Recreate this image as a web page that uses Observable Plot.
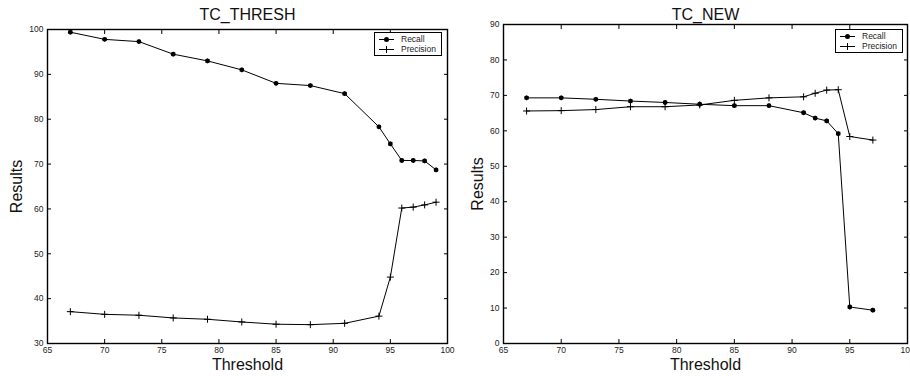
<!DOCTYPE html>
<html>
<head>
<meta charset="utf-8">
<script src="https://cdn.jsdelivr.net/npm/d3@7"></script>
<script src="https://cdn.jsdelivr.net/npm/@observablehq/plot@0.6"></script>
<style>
  body { margin: 0; background: #fff; }
  #wrap { position: relative; width: 910px; height: 376px; overflow: hidden; font-family: "Liberation Sans", Arial, Helvetica, sans-serif; }
  .panel { position: absolute; top: 0; }
  .legend { position: absolute; background: #fff; border: 1.5px solid #000; font-size: 8.5px; line-height: 10px; padding: 1px 4px 1px 4px; color: #222; }
  .row { display: flex; align-items: center; white-space: nowrap; }
  .sw { position: relative; display: inline-block; width: 15px; height: 1px; background: #000; margin-right: 7px; }
  .sw .dot { position: absolute; left: 5px; top: -2px; width: 5px; height: 5px; border-radius: 50%; background: #000; }
  .sw .vb { position: absolute; left: 7px; top: -3px; width: 1px; height: 7px; background: #000; }
</style>
</head>
<body>
<div id="wrap">
  <div id="p1" class="panel" style="left:0"></div>
  <div id="p2" class="panel" style="left:455px"></div>
  <div class="legend" style="left:374px; top:32px; width:58px;">
    <div class="row"><span class="sw"><span class="dot"></span></span>Recall</div>
    <div class="row"><span class="sw"><span class="vb"></span></span>Precision</div>
  </div>
  <div class="legend" style="left:835px; top:29px; width:58px;">
    <div class="row"><span class="sw"><span class="dot"></span></span>Recall</div>
    <div class="row"><span class="sw"><span class="vb"></span></span>Precision</div>
  </div>
</div>
<script>
// ---- data ----
const titleA = "TC_THRESH";
const titleB = "TC_NEW";
const xLabel = "Threshold";
const yLabel = "Results";
const seriesNames = ["Recall", "Precision"];

const xTicks = [65, 70, 75, 80, 85, 90, 95, 100];
const yTicksA = [30, 40, 50, 60, 70, 80, 90, 100];
const yTicksB = [0, 10, 20, 30, 40, 50, 60, 70, 80, 90];

const thresholdsA = [67, 70, 73, 76, 79, 82, 85, 88, 91, 94, 95, 96, 97, 98, 99];
const recallA     = [99.4, 97.8, 97.3, 94.5, 93.0, 91.0, 88.0, 87.5, 85.7, 78.3, 74.5, 70.8, 70.8, 70.7, 68.7];
const precisionA  = [37.1, 36.5, 36.3, 35.7, 35.4, 34.8, 34.3, 34.2, 34.5, 36.1, 44.8, 60.2, 60.4, 60.9, 61.5];

const thresholdsB = [67, 70, 73, 76, 79, 82, 85, 88, 91, 92, 93, 94, 95, 97];
const recallB     = [69.3, 69.3, 68.9, 68.4, 68.0, 67.5, 67.1, 67.1, 65.1, 63.6, 62.8, 59.2, 10.3, 9.4];
const precisionB  = [65.6, 65.7, 66.0, 66.8, 66.8, 67.3, 68.6, 69.3, 69.6, 70.6, 71.5, 71.6, 58.4, 57.4];

function rows(ts, rec, prec) {
  return [
    ...ts.map((t, i) => ({t, v: rec[i], s: seriesNames[0]})),
    ...ts.map((t, i) => ({t, v: prec[i], s: seriesNames[1]}))
  ];
}

function panel({title, data, yDomain, yTicks, marginLeft, marginRight, marginTop, ylabDx, titleDy}) {
  const rec = data.filter(d => d.s === "Recall");
  const prec = data.filter(d => d.s === "Precision");
  return Plot.plot({
    width: 455,
    height: 376,
    marginLeft, marginRight, marginTop,
    marginBottom: 33,
    style: {fontFamily: '"Liberation Sans", Arial, Helvetica, sans-serif', fontSize: "8.5px", color: "#222", background: "transparent", overflow: "visible"},
    x: {domain: [65, 100], label: null},
    y: {domain: yDomain, label: null},
    marks: [
      Plot.axisX(xTicks, {anchor: "bottom", tickSize: -4, tickPadding: 7, label: null, stroke: "#000"}),
      Plot.axisX(xTicks, {anchor: "top", tickSize: -4, tickFormat: () => "", label: null, stroke: "#000"}),
      Plot.axisY(yTicks, {anchor: "left", tickSize: -4, tickPadding: 8, label: null, stroke: "#000"}),
      Plot.axisY(yTicks, {anchor: "right", tickSize: -4, tickFormat: () => "", label: null, stroke: "#000"}),
      Plot.frame({stroke: "#000", strokeWidth: 1.4}),
      Plot.line(data, {x: "t", y: "v", z: "s", stroke: "#000", strokeWidth: 1}),
      Plot.dot(rec, {x: "t", y: "v", r: 2.4, fill: "#000", stroke: "none"}),
      Plot.dot(rec, {x: "t", y: "v", symbol: "asterisk", r: 2.2, stroke: "#000", strokeWidth: 0.8}),
      Plot.dot(prec, {x: "t", y: "v", symbol: "plus", r: 2.4, stroke: "#000", strokeWidth: 1}),
      Plot.text([title], {frameAnchor: "top", lineAnchor: "middle", textAnchor: "middle", dy: titleDy, fontSize: 16, fill: "#111"}),
      Plot.text([xLabel], {frameAnchor: "bottom", lineAnchor: "middle", textAnchor: "middle", dy: 21, fontSize: 16, fill: "#111"}),
      Plot.text([yLabel], {frameAnchor: "left", lineAnchor: "middle", textAnchor: "middle", dx: ylabDx, rotate: -90, fontSize: 16, fill: "#111"})
    ]
  });
}

document.getElementById("p1").append(panel({
  title: titleA, data: rows(thresholdsA, recallA, precisionA),
  yDomain: [30, 100], yTicks: yTicksA, marginLeft: 47, marginRight: 8, marginTop: 29, ylabDx: -31, titleDy: -15
}));
document.getElementById("p2").append(panel({
  title: titleB, data: rows(thresholdsB, recallB, precisionB),
  yDomain: [0, 90], yTicks: yTicksB, marginLeft: 48, marginRight: 3, marginTop: 24, ylabDx: -26, titleDy: -10
}));
</script>
</body>
</html>
